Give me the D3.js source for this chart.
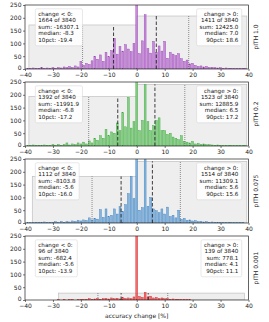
<!DOCTYPE html>
<html>
<head>
<meta charset="utf-8">
<script src="https://cdn.jsdelivr.net/npm/d3@7"></script>
<style>
  body { margin: 0; background: #fff; }
  text { font-family: "DejaVu Sans", sans-serif; }
</style>
</head>
<body>
<div id="chart"></div>
<script>
// bin centres (accuracy change, %)
const centros = d3.range(-39, 40);

// counts per bin, one array per pITH setting
const cuentasP10 = [3, 2, 4, 2, 3, 5, 2, 4, 3, 5, 3, 6, 4, 8, 5, 10, 6, 12, 8, 30, 15, 22, 18, 32, 50, 38, 55, 30, 65, 48, 72, 120, 58, 88, 70, 95, 78, 68, 100,
  765, 60, 110, 212, 80, 62, 108, 65, 90, 70, 108, 42, 65, 58, 52, 60, 40, 30, 35, 20, 22, 14, 10, 12, 8, 10, 6, 7, 5, 4, 5, 3, 4, 2, 3, 2, 2, 1, 2, 1];
const cuentasP02 = [2, 3, 4, 2, 3, 2, 4, 3, 2, 5, 2, 6, 3, 5, 12, 4, 8, 5, 12, 8, 15, 8, 20, 12, 30, 22, 40, 30, 65, 40, 55, 50, 90, 60, 130, 75, 190, 70, 95,
  925, 60, 100, 240, 95, 60, 80, 100, 110, 60, 60, 45, 50, 35, 30, 25, 40, 18, 15, 12, 18, 8, 10, 6, 8, 5, 5, 4, 3, 4, 3, 2, 3, 2, 2, 1, 2, 1, 1, 1];
const cuentasP0075 = [1, 2, 1, 3, 2, 2, 4, 2, 3, 3, 5, 2, 6, 3, 5, 4, 8, 6, 10, 8, 12, 10, 20, 12, 18, 15, 52, 22, 55, 25, 30, 55, 35, 64, 45, 72, 115, 182, 95,
  1214, 50, 60, 300, 65, 100, 55, 48, 40, 55, 35, 62, 25, 30, 20, 50, 15, 18, 10, 12, 8, 9, 5, 6, 4, 5, 3, 4, 2, 3, 2, 2, 1, 2, 1, 1, 1, 1, 1, 0];
const cuentasP0001 = [0, 0, 0, 0, 0, 0, 0, 0, 0, 0, 0, 1, 0, 1, 0, 1, 1, 0, 1, 1, 2, 3, 5, 2, 4, 6, 3, 5, 6, 4, 8, 5, 7, 4, 9, 6, 8, 5, 12,
  3605, 14, 10, 30, 12, 15, 8, 10, 6, 8, 5, 6, 3, 4, 2, 3, 1, 2, 1, 1, 0, 0, 0, 0, 0, 0, 0, 0, 0, 0, 0, 0, 0, 0, 0, 0, 0, 0, 0, 0];

const etiquetas = ["pITH 1.0", "pITH 0.2", "pITH 0.075", "pITH 0.001"];
const colores = ["#bd78d3", "#72c972", "#72a8d8", "#ef5256"];
const bordes = ["#9a42b4", "#3aa53a", "#3a7fbf", "#d62728"];

// grey band: left start / height, right end / height
const bandaIzq = [-38.6, -38.6, -37.4, -28.0];
const altoIzq = [172, 193, 182, 27];
const bandaDer = [39.4, 39.4, 39.4, 38.5];
const altoDer = [207, 241, 241, 27];

const medianasNeg = [-8.3, -6.8, -5.6, -5.6];
const medianasPos = [7.0, 6.5, 5.6, 4.1];
const pct10 = [-19.4, -17.2, -16.0, -13.9];
const pct90 = [18.6, 17.2, 15.6, 11.1];

const nNeg = [1664, 1392, 1112, 96];
const nPos = [1411, 1523, 1514, 139];
const sumaNeg = ["-16307.1", "-11991.9", "-8103.8", "-682.4"];
const sumaPos = ["12425.0", "12885.9", "11309.1", "778.1"];
const TOTAL = 3840;

const xTicks = [-40, -30, -20, -10, 0, 10, 20, 30, 40];
const yTicks = [0, 50, 100, 150, 200, 250];

const cuentas = [cuentasP10, cuentasP02, cuentasP0075, cuentasP0001];

const ANCHO = 269, ALTO = 322;
const IZQ = 25, DER = 248.5;
const ALTO_PANEL = 64, PASO = 77, ARRIBA = 5;
const FUENTE = 6.0;
const FUENTE_CAJA = 5.6;
const INTERLINEA = 6.5;

const $svg = d3.select("#chart").append("svg")
  .attr("width", ANCHO).attr("height", ALTO);

const x = d3.scaleLinear().domain([-40, 40]).range([IZQ, DER]);
const anchoBarra = (x(1) - x(0)) * 0.68;

const fmt = v => String(v).replace("-", "\u2212");
const fmt1 = v => v.toFixed(1);

cuentas.forEach((datos, i) => {
  const top = ARRIBA + i * PASO;
  const y = d3.scaleLinear().domain([0, 250]).range([top + ALTO_PANEL, top]);
  const g = $svg.append("g");

  const clipId = "clip" + i;
  g.append("clipPath").attr("id", clipId).append("rect")
    .attr("x", IZQ).attr("y", top).attr("width", DER - IZQ).attr("height", ALTO_PANEL);
  const area = g.append("g").attr("clip-path", `url(#${clipId})`);

  // grey band
  area.append("rect")
    .attr("x", x(bandaIzq[i])).attr("y", y(altoIzq[i]))
    .attr("width", x(0) - x(bandaIzq[i])).attr("height", y(0) - y(altoIzq[i]))
    .attr("fill", "#eeeeee").attr("stroke", "#b8b8b8").attr("stroke-width", 0.6);
  area.append("rect")
    .attr("x", x(0)).attr("y", y(altoDer[i]))
    .attr("width", x(bandaDer[i]) - x(0)).attr("height", y(0) - y(altoDer[i]))
    .attr("fill", "#eeeeee").attr("stroke", "#b8b8b8").attr("stroke-width", 0.6);

  // bars
  area.selectAll(".barra").data(centros.map((c, k) => ({c, n: datos[k]})).filter(d => d.n > 0))
    .enter().append("rect")
    .attr("x", d => x(d.c) - anchoBarra / 2)
    .attr("y", d => y(d.n))
    .attr("width", anchoBarra)
    .attr("height", d => y(0) - y(d.n))
    .attr("fill", colores[i])
    .attr("fill-opacity", 0.85)
    .attr("stroke", bordes[i])
    .attr("stroke-width", 0.4);

  // median (dashed) and percentile (dotted) lines
  const lineas = [
    {v: medianasNeg[i], h: altoIzq[i], guion: true},
    {v: medianasPos[i], h: altoDer[i], guion: true},
    {v: pct10[i], h: altoIzq[i], guion: false},
    {v: pct90[i], h: altoDer[i], guion: false}
  ];
  lineas.forEach(l => {
    area.append("line")
      .attr("x1", x(l.v)).attr("x2", x(l.v))
      .attr("y1", y(0)).attr("y2", y(l.h))
      .attr("stroke", l.guion ? "#111" : "#555")
      .attr("stroke-width", 0.8)
      .attr("stroke-dasharray", l.guion ? "3.5,2" : "0.8,1.2");
  });

  // text boxes
  const textoNeg = ["change < 0:", `${nNeg[i]} of ${TOTAL}`, `sum: ${sumaNeg[i]}`,
    `median: ${fmt1(medianasNeg[i])}`, `10pct: ${fmt1(pct10[i])}`];
  const textoPos = ["change > 0:", `${nPos[i]} of ${TOTAL}`, `sum: ${sumaPos[i]}`,
    `median: ${fmt1(medianasPos[i])}`, `90pct: ${fmt1(pct90[i])}`];

  const caja = (lineasTexto, xTexto, anchor) => {
    const gc = g.append("g");
    const fondo = gc.append("rect");
    const t = gc.append("text")
      .attr("font-size", FUENTE_CAJA).attr("fill", "#111").attr("text-anchor", anchor);
    lineasTexto.forEach((s, k) => {
      t.append("tspan").attr("x", xTexto).attr("y", top + 10.8 + k * INTERLINEA).text(s);
    });
    const bb = t.node().getBBox();
    fondo.attr("x", bb.x - 3).attr("y", bb.y - 2)
      .attr("width", bb.width + 6).attr("height", bb.height + 4)
      .attr("rx", 1.5)
      .attr("fill", "#fff").attr("fill-opacity", 0.85)
      .attr("stroke", "#d0d0d0").attr("stroke-width", 0.5);
  };
  caja(textoNeg, 38.3, "start");
  caja(textoPos, 238.3, "end");

  // axes
  const ejeX = g.append("g").attr("transform", `translate(0,${top + ALTO_PANEL})`)
    .call(d3.axisBottom(x).tickValues(xTicks).tickSize(2).tickPadding(1.5).tickFormat(fmt));
  const ejeY = g.append("g").attr("transform", `translate(${IZQ},0)`)
    .call(d3.axisLeft(y).tickValues(yTicks).tickSize(2).tickPadding(1.5));
  [ejeX, ejeY].forEach(e => {
    e.select(".domain").remove();
    e.selectAll("line").attr("stroke", "#222").attr("stroke-width", 0.6);
    e.selectAll("text").attr("font-size", FUENTE).attr("fill", "#222")
      .attr("font-family", "DejaVu Sans, sans-serif");
  });
  // lift the "0" label a touch so it clears the x tick label below it
  ejeY.selectAll(".tick text").filter(d => d === 0).attr("dy", "0.12em");

  // frame
  g.append("rect")
    .attr("x", IZQ).attr("y", top).attr("width", DER - IZQ).attr("height", ALTO_PANEL)
    .attr("fill", "none").attr("stroke", "#222").attr("stroke-width", 0.7);

  // side label
  g.append("text")
    .attr("transform", `translate(258,${top + ALTO_PANEL / 2}) rotate(-90)`)
    .attr("text-anchor", "middle").attr("font-size", FUENTE).attr("fill", "#222")
    .text(etiquetas[i]);
});

$svg.append("text")
  .attr("x", (IZQ + DER) / 2).attr("y", 318)
  .attr("text-anchor", "middle").attr("font-size", FUENTE).attr("fill", "#222")
  .text("accuracy change [%]");
</script>
</body>
</html>
